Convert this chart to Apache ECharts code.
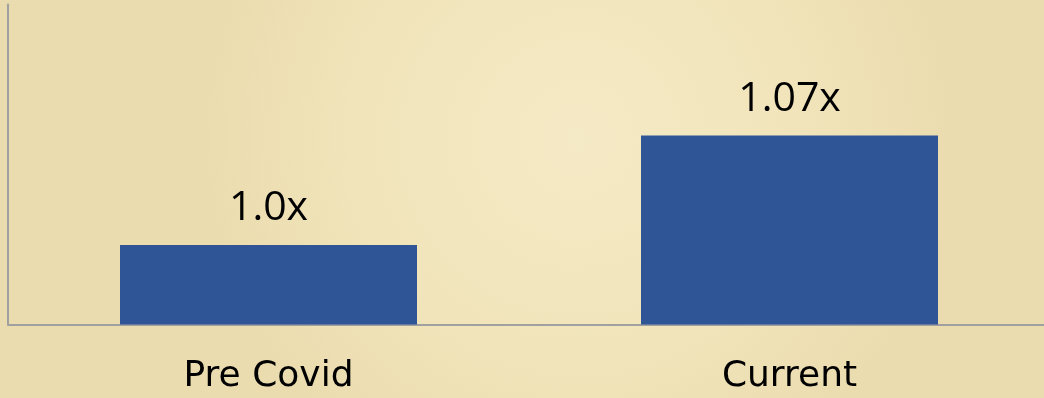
<!DOCTYPE html>
<html>
<head>
<meta charset="utf-8">
<script src="https://cdn.jsdelivr.net/npm/echarts@6/dist/echarts.min.js"></script>
<style>
html,body{margin:0;padding:0;overflow:hidden;width:1044px;height:398px;}
#c{width:1050px;height:398px;}
</style>
</head>
<body>
<div id="c"></div>
<script>
var categories = ['Pre Covid', 'Current'];
var values = [1.0, 1.07];
var labels = ['1.0x', '1.07x'];

var chart = echarts.init(document.getElementById('c'));
chart.setOption({
  animation: false,
  backgroundColor: {
    type: 'radial', x: 0.55, y: 0.35, r: 0.95,
    colorStops: [
      {offset: 0, color: '#F5EAC6'},
      {offset: 0.6, color: '#F1E4BA'},
      {offset: 1, color: '#EBDCAF'}
    ]
  },
  grid: {left: 8, top: 4.5, bottom: 73.5, right: 0},
  xAxis: {
    type: 'category',
    data: categories,
    axisLine: {show: true, lineStyle: {color: '#A0A0A0', width: 2}},
    axisTick: {show: false},
    axisLabel: {
      color: '#000', fontFamily: 'DejaVu Sans', fontSize: 36, margin: 34
    }
  },
  yAxis: {
    type: 'value',
    min: 0.949, max: 1.154,
    axisLine: {show: true, lineStyle: {color: '#A0A0A0', width: 2}},
    axisTick: {show: false},
    axisLabel: {show: false},
    splitLine: {show: false}
  },
  series: [{
    type: 'bar',
    data: values,
    barWidth: 297,
    itemStyle: {color: '#2F5597'},
    label: {
      show: true, position: 'top', distance: 16,
      color: '#000', fontFamily: 'Open Sans', fontSize: 41,
      formatter: function (p) { return labels[p.dataIndex]; }
    }
  }]
});
</script>
</body>
</html>
